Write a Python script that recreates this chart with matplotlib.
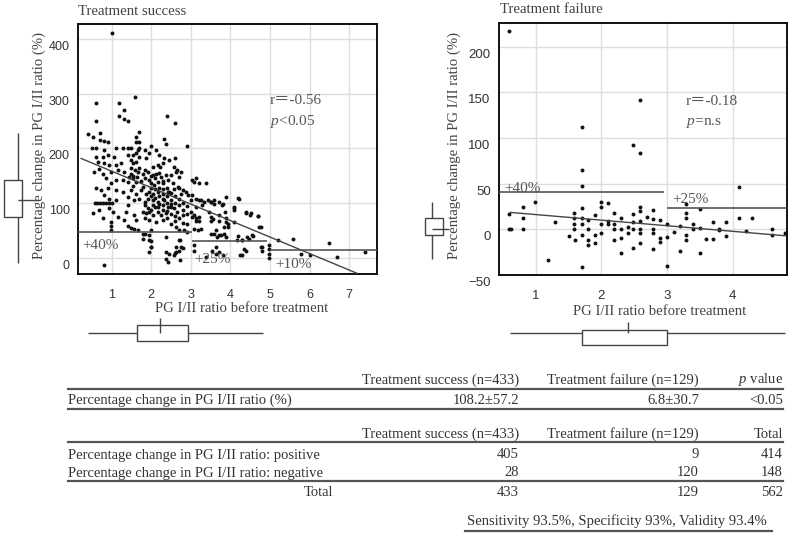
import numpy as np
import matplotlib
matplotlib.use("Agg")
import matplotlib.pyplot as plt
from matplotlib.patches import Rectangle
from matplotlib.lines import Line2D
from matplotlib.transforms import ScaledTranslation

plt.rcParams['font.family'] = ['Liberation Serif', 'Noto Sans CJK JP', 'DejaVu Sans']
plt.rcParams['mathtext.fontset'] = 'custom'
plt.rcParams['mathtext.rm'] = 'Liberation Serif'
plt.rcParams['mathtext.it'] = 'Liberation Serif:italic'

# ---- treatment success: PG I/II ratio before treatment vs % change ----
success_x = [1.0, 0.6, 1.19, 1.6, 1.3, 1.19, 1.3, 1.4, 0.6, 2.4,
             2.6, 1.7, 0.41, 0.52, 0.7, 0.71, 0.81, 0.9, 1.62, 1.7,
             1.62, 2.0, 2.32, 2.9, 0.5, 0.6, 1.11, 1.4, 1.7, 0.81,
             1.28, 1.49, 1.66, 1.83, 1.95, 2.12, 2.38, 0.60, 0.77, 0.90,
             1.07, 1.40, 1.53, 1.62, 1.70, 2.2, 2.33, 0.65, 0.81, 0.94,
             1.11, 1.24, 1.49, 1.53, 1.62, 1.87, 2.04, 2.16, 2.29, 0.56,
             0.69, 0.77, 0.98, 1.15, 1.32, 1.49, 1.66, 1.78, 1.91, 2.04,
             2.12, 2.25, 2.38, 0.86, 0.98, 1.11, 1.28, 1.40, 1.53, 1.62,
             1.83, 1.95, 1.99, 2.08, 2.16, 2.29, 2.42, 0.60, 0.73, 0.90,
             1.11, 1.28, 1.49, 1.62, 1.74, 1.87, 1.95, 2.04, 2.16, 2.29,
             2.42, 0.81, 0.94, 1.11, 1.40, 1.57, 1.70, 1.83, 1.91, 2.04,
             2.16, 2.33, 0.58, 0.64, 0.71, 0.77, 0.85, 0.94, 1.0, 1.40,
             1.83, 1.91, 2.04, 2.16, 2.29, 2.42, 0.52, 0.69, 0.94, 1.03,
             1.15, 1.36, 1.57, 1.78, 1.87, 1.95, 2.04, 2.16, 2.25, 2.38,
             0.77, 0.98, 1.32, 1.62, 1.83, 1.95, 2.12, 2.29, 0.98, 1.40,
             1.49, 1.57, 1.66, 0.98, 1.83, 1.95, 1.78, 1.95, 2.38, 1.99,
             1.95, 2.38, 2.38, 0.81, 2.46, 2.58, 2.21, 2.5, 2.62, 2.71,
             2.54, 2.67, 2.75, 2.46, 3.04, 3.13, 3.38, 3.04, 3.0, 3.21,
             3.13, 3.29, 3.5, 3.58, 3.79, 3.88, 4.21, 4.08, 4.38, 4.5,
             4.69, 3.04, 3.13, 3.21, 3.5, 3.71, 3.88, 3.83, 3.63, 3.5,
             3.71, 3.88, 4.17, 4.29, 4.46, 4.54, 4.71, 4.79, 4.79, 4.98,
             4.98, 4.98, 4.98, 3.08, 3.08, 3.54, 3.63, 4.33, 4.25, 3.38,
             2.71, 2.62, 2.58, 2.6, 2.66, 2.75, 3.08, 3.21, 2.58, 2.70,
             2.79, 2.87, 2.92, 3.13, 3.25, 3.34, 3.42, 3.51, 3.59, 3.72,
             3.8, 4.1, 4.1, 4.2, 4.39, 4.52, 2.49, 2.58, 2.66, 2.79,
             3.0, 3.08, 3.13, 3.21, 3.46, 3.51, 3.55, 3.72, 3.85, 3.89,
             3.93, 3.93, 4.1, 2.4, 2.49, 2.62, 2.7, 2.83, 2.9, 3.08,
             3.17, 3.25, 3.59, 3.67, 3.76, 3.84, 4.18, 4.3, 4.43, 4.56,
             4.77, 3.63, 3.72, 3.8, 4.39, 4.3, 2.7, 2.79, 2.62, 2.45,
             4.7, 4.78, 5.2, 5.59, 6.49, 7.4, 5.78, 6.0, 6.69, 1.79,
             2.0, 2.0, 2.0, 2.42, 2.6, 2.72, 2.76, 2.72, 2.0, 2.0,
             2.0, 2.0, 2.1, 2.1, 2.1, 2.1, 2.2, 2.2, 2.2, 2.2,
             2.3, 2.3, 2.3, 2.3, 2.4, 2.4, 2.4, 2.4, 2.5, 2.5,
             2.5, 2.5, 2.6, 2.6, 2.6, 2.6, 2.7, 2.7, 2.7, 2.8,
             2.8, 2.8, 2.9, 2.9, 2.9, 1.55, 1.55, 1.6, 1.65, 1.7,
             1.75, 1.5, 1.45, 1.8, 1.85]
success_y = [411, 284, 284, 295, 270, 259, 254, 250, 250, 259,
             247, 230, 226, 221, 229, 215, 213, 212, 221, 212,
             212, 205, 218, 204, 201, 201, 201, 201, 201, 197,
             200, 200, 197, 197, 191, 197, 209, 185, 185, 188,
             185, 188, 188, 191, 185, 188, 182, 176, 173, 170,
             170, 173, 179, 173, 176, 182, 166, 170, 173, 157,
             163, 154, 157, 160, 157, 154, 157, 154, 157, 151,
             154, 148, 151, 145, 136, 142, 142, 139, 145, 139,
             145, 142, 136, 133, 139, 136, 142, 127, 124, 127,
             124, 120, 124, 117, 124, 117, 120, 117, 120, 117,
             120, 114, 108, 105, 111, 105, 108, 102, 108, 105,
             102, 105, 100, 100, 100, 100, 100, 100, 100, 96,
             96, 90, 96, 93, 96, 93, 81, 87, 90, 84,
             75, 84, 78, 84, 81, 84, 78, 84, 78, 81,
             72, 65, 69, 69, 72, 69, 65, 69, 58, 58,
             55, 53, 51, 50, 44, 41, 35, 32, 38, 20,
             10, 10, -2, -14, 178, 166, 166, 151, 157, 148,
             136, 130, 117, 120, 142, 145, 136, 114, 105, 105,
             93, 96, 102, 99, 96, 111, 108, 90, 81, 78,
             76, 75, 68, 75, 68, 68, 65, 56, 50, 44,
             41, 38, 32, 32, 35, 41, 56, 20, 13, 23,
             15, 7, 0, 23, 13, 13, 7, 16, 4, 1,
             13, 20, 4, 182, 160, 157, 139, 136, 125, 128,
             124, 120, 114, 108, 105, 102, 105, 102, 105, 102,
             99, 93, 87, 110, 84, 81, 93, 90, 84, 87,
             84, 78, 72, 68, 84, 75, 70, 78, 84, 72,
             62, 56, 65, 72, 62, 56, 50, 50, 47, 53,
             50, 53, 44, 38, 41, 44, 40, 32, 38, 40,
             20, 20, 10, 4, 13, 4, 32, 18, 10, 7,
             77, 56, 33, 35, 26, 10, 7, 5, 2, 44,
             31, 19, 50, -8, 8, -5, 19, 32, 150, 128,
             112, 88, 145, 125, 110, 92, 155, 128, 112, 98,
             140, 125, 108, 88, 128, 112, 100, 85, 118, 106,
             98, 80, 112, 100, 76, 68, 108, 96, 72, 100,
             78, 64, 95, 80, 62, 150, 132, 160, 148, 165,
             140, 165, 148, 130, 160]

# ---- treatment failure ----
failure_x = [0.6, 0.6, 0.6, 0.63, 0.8, 0.8, 0.8, 0.99, 1.19, 1.3,
             1.5, 1.58, 1.58, 1.58, 1.58, 1.6, 1.7, 1.7, 1.7, 1.7,
             1.7, 1.7, 1.7, 1.7, 1.8, 1.8, 1.8, 1.8, 1.9, 1.9,
             1.9, 2.0, 2.0, 2.0, 2.0, 2.1, 2.1, 2.1, 2.2, 2.2,
             2.2, 2.2, 2.3, 2.3, 2.3, 2.3, 2.4, 2.4, 2.49, 2.49,
             2.49, 2.49, 2.49, 2.59, 2.59, 2.59, 2.59, 2.59, 2.59, 2.59,
             2.59, 2.69, 2.79, 2.79, 2.79, 2.79, 2.79, 2.9, 2.9, 2.9,
             3.0, 3.0, 3.0, 3.1, 3.2, 3.2, 3.29, 3.29, 3.29, 3.29,
             3.29, 3.39, 3.39, 3.5, 3.5, 3.5, 3.6, 3.7, 3.7, 3.8,
             3.8, 3.9, 3.9, 4.1, 4.1, 4.2, 4.3, 4.6, 4.6, 4.8]
failure_y = [217, 17, 0, 0, 25, 12, 0, 30, -34, 8,
             -7, 18, 12, 6, 0, -12, 112, 65, 47, 23,
             12, 6, -6, -41, 10, 0, -12, -17, -6, -15,
             16, 30, 25, 6, -4, 29, 9, 6, 18, 6,
             0, -12, 12, 0, -9, -26, 3, -4, 92, 17,
             8, 0, -20, 142, 84, 24, 20, 9, 0, -4,
             -15, 14, 21, 11, 0, -4, -21, 10, -9, -14,
             6, -8, -40, -3, 4, -24, 28, 18, 12, -6,
             -12, 6, 0, 22, 2, -26, -11, 8, -11, 0,
             -1, 8, -7, 46, 12, -2, 12, 0, -6, -4]

# regression lines: intercept, slope, x range
success_fit = (188.6, -30.2, 0.23, 7.19)
failure_fit = (22.3, -6.11, 0.61, 4.80)

# cut-off lines: x start, x end, level, label
success_cut_x0 = [0.15, 3.04, 5.0]
success_cut_x1 = [3.02, 4.91, 7.7]
success_cut_y = [47, 30, 13.4]
success_cut_labels = ['+40%', '+25%', '+10%']
failure_cut_x0 = [0.44, 3.0]
failure_cut_x1 = [2.95, 4.83]
failure_cut_y = [40.6, 23.4]
failure_cut_labels = ['+40%', '+25%']

# boxplot summaries (whislo, q1, med, q3, whishi)
success_change_box = [-10, 74, 105, 142, 228]
success_ratio_box = [0.39, 1.63, 2.22, 2.92, 4.82]
failure_change_box = [-32.6, -6.2, 0, 12.4, 30]
failure_ratio_box = [0.61, 1.70, 2.40, 3.0, 4.80]

# tables
table1_header = ['Treatment success (n=433)', 'Treatment failure (n=129)', '$p$ value']
table1_rows = [['Percentage change in PG I/II ratio (%)', '108.2±57.2', '6.8±30.7', '<0.05']]
table2_header = ['Treatment success (n=433)', 'Treatment failure (n=129)', 'Total']
table2_rows = [['Percentage change in PG I/II ratio: positive', '405', '9', '414'],
               ['Percentage change in PG I/II ratio: negative', '28', '120', '148']]
table2_total = ['Total', '433', '129', '562']
summary_text = 'Sensitivity 93.5%, Specificity 93%, Validity 93.4%'

W, H = 800, 545
fig = plt.figure(figsize=(W / 100, H / 100), dpi=100)


def fx(px):
    return px / W


def fy(py):
    return 1 - py / H


def axes_px(x0, y0, x1, y1):
    return [fx(x0), fy(y1), (x1 - x0) / W, (y1 - y0) / H]


TXT = '#444444'
LAB_SIZE = 10.6
YLAB = 'Percentage change in PG I/II ratio (%)'
XLAB = 'PG I/II ratio before treatment'


def draw_panel(ax, xs, ys, xlim, ylim, xticks, yticks, fit, cx0, cx1, cy, clabels,
               cl_off, cl_va, stats, stats_xy, tick_size):
    ax.scatter(xs, ys, s=8, c='#111111', linewidths=0, zorder=3)
    b0, b1, xa, xb = fit
    xf = np.array([xa, xb])
    ax.plot(xf, b0 + b1 * xf, color='#444444', lw=1.0, zorder=4)
    ax.hlines(cy, cx0, cx1, color='#555555', lw=1.2, zorder=4)
    for x0, y, lab, off, va in zip(cx0, cy, clabels, cl_off, cl_va):
        ax.annotate(lab, xy=(x0, y), xytext=off, textcoords='offset points',
                    ha='left', va=va, fontsize=11, color='#555555', zorder=5)
    ax.text(stats_xy[0], stats_xy[1], stats[0], transform=ax.transAxes,
            fontsize=11, color='#555555', ha='left', va='center')
    ax.text(stats_xy[0], stats_xy[1] - 0.085, stats[1], transform=ax.transAxes,
            fontsize=11, color='#555555', ha='left', va='center')
    ax.set_xlim(xlim)
    ax.set_ylim(ylim)
    ax.set_xticks(xticks)
    ax.set_yticks(yticks)
    ax.grid(True, color='#dedede', lw=1.0)
    ax.set_axisbelow(True)
    for s in ax.spines.values():
        s.set_linewidth(1.4)
        s.set_color('#111111')
    ax.tick_params(length=0, labelsize=tick_size, labelcolor='#333333')
    ax.tick_params(axis='x', pad=11)
    ax.tick_params(axis='y', pad=6)
    for lab in ax.get_xticklabels() + ax.get_yticklabels():
        lab.set_fontfamily('Liberation Sans')
    shift = ScaledTranslation(0, -0.065, fig.dpi_scale_trans)
    for lab in ax.get_yticklabels():
        lab.set_transform(lab.get_transform() + shift)


def draw_vbox(bax, stats, ylim, wx, bx0, bx1, mx1):
    lo, q1, med, q3, hi = stats
    bax.vlines(wx, lo, q1, color='#444444', lw=1.0)
    bax.vlines(wx, q3, hi, color='#444444', lw=1.0)
    bax.add_patch(Rectangle((bx0, q1), bx1 - bx0, q3 - q1, fill=False,
                            ec='#444444', lw=1.0))
    bax.hlines(med, wx, mx1, color='#444444', lw=1.0)
    bax.set_xlim(0, 1)
    bax.set_ylim(ylim)
    bax.axis('off')


def draw_hbox(bax, stats, xlim, wy, by0, by1, my1):
    lo, q1, med, q3, hi = stats
    bax.hlines(wy, lo, q1, color='#444444', lw=1.0)
    bax.hlines(wy, q3, hi, color='#444444', lw=1.0)
    bax.add_patch(Rectangle((q1, by0), q3 - q1, by1 - by0, fill=False,
                            ec='#444444', lw=1.0, clip_on=False))
    bax.vlines(med, wy, my1, color='#444444', lw=1.0)
    bax.set_ylim(0, 1)
    bax.set_xlim(xlim)
    bax.axis('off')


# ---- left panel ----
axL = fig.add_axes(axes_px(78, 24, 377, 274))
draw_panel(axL, success_x, success_y, (0.15, 7.7), (-30, 428), range(1, 8),
           range(0, 401, 100), success_fit, success_cut_x0, success_cut_x1,
           success_cut_y, success_cut_labels,
           [(3, -5), (1, -8.5), (4, -5.5)], ['top', 'top', 'top'],
           ['r＝-0.56', '$p$<0.05'], (0.642, 0.695), 9)
axL.set_ylabel(YLAB, fontsize=LAB_SIZE, color=TXT)
axL.yaxis.set_label_coords(-0.108, 0.515)
axL.set_xlabel(XLAB, fontsize=LAB_SIZE, color=TXT)
axL.xaxis.set_label_coords(0.547, -0.112)
fig.text(fx(78), fy(11.5), 'Treatment success', fontsize=LAB_SIZE, color=TXT,
         ha='left', va='center')

bL = fig.add_axes(axes_px(0, 24, 40, 274))
draw_vbox(bL, success_change_box, axL.get_ylim(), 0.45, 0.1, 0.55, 0.95)
bLb = fig.add_axes(axes_px(78, 315, 377, 345))
draw_hbox(bLb, success_ratio_box, axL.get_xlim(), 0.4, 0.133, 0.667, 0.9)

# ---- right panel ----
axR = fig.add_axes(axes_px(499, 23, 787, 275))
draw_panel(axR, failure_x, failure_y, (0.44, 4.83), (-50, 226), range(1, 5),
           range(-50, 201, 50), failure_fit, failure_cut_x0, failure_cut_x1,
           failure_cut_y, failure_cut_labels,
           [(4, -2), (4, 1.5)], ['bottom', 'bottom'],
           ['r＝-0.18', '$p$=n.s'], (0.648, 0.69), 9.5)
axR.set_ylabel(YLAB, fontsize=LAB_SIZE, color=TXT)
axR.yaxis.set_label_coords(-0.131, 0.515)
axR.set_xlabel(XLAB, fontsize=LAB_SIZE, color=TXT)
axR.xaxis.set_label_coords(0.559, -0.118)
fig.text(fx(500), fy(9.5), 'Treatment failure', fontsize=LAB_SIZE, color=TXT,
         ha='left', va='center')

bR = fig.add_axes(axes_px(420, 23, 460, 275))
draw_vbox(bR, failure_change_box, axR.get_ylim(), 0.3, 0.125, 0.583, 0.733)
bRb = fig.add_axes(axes_px(499, 315, 787, 345))
draw_hbox(bRb, failure_ratio_box, axR.get_xlim(), 0.4, 0.0, 0.5, 0.777)

# ---- tables ----
TAB = '#333333'
TAB_SIZE = 10.5
col_right = [519, 699, 783]
row_left = 68


def rule(py, x0=68, x1=783):
    fig.add_artist(Line2D([fx(x0), fx(x1)], [fy(py), fy(py)], color='#555555', lw=1.6))


def text_row(py, cells, label_ha='left', label_x=row_left):
    fig.text(fx(label_x), fy(py), cells[0], ha=label_ha, va='center',
             fontsize=TAB_SIZE, color=TAB)
    for c, xr in zip(cells[1:], col_right):
        fig.text(fx(xr), fy(py), c, ha='right', va='center', fontsize=TAB_SIZE, color=TAB)


for h, xr in zip(table1_header, col_right):
    fig.text(fx(xr), fy(380), h, ha='right', va='center', fontsize=TAB_SIZE, color=TAB)
rule(388.5)
text_row(400, table1_rows[0])
rule(409)

for h, xr in zip(table2_header, col_right):
    fig.text(fx(xr), fy(434), h, ha='right', va='center', fontsize=TAB_SIZE, color=TAB)
rule(441.5)
for row, py in zip(table2_rows, [455, 473]):
    text_row(py, row)
rule(481)
text_row(493, table2_total, label_ha='right', label_x=333)

fig.text(fx(467), fy(521), summary_text, ha='left', va='center', fontsize=TAB_SIZE, color=TAB)
rule(531, 465, 772)

fig.savefig('out.png', dpi=100)
